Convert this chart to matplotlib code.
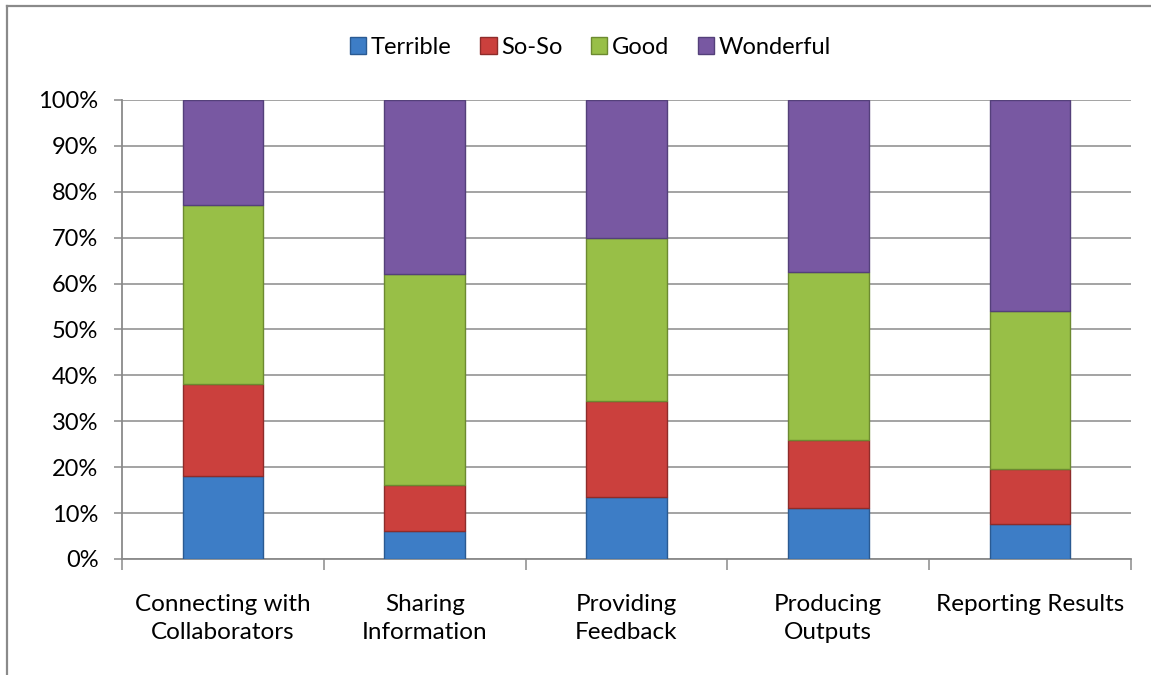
import numpy as np
import matplotlib
matplotlib.use("Agg")
import matplotlib.pyplot as plt
from matplotlib.lines import Line2D

plt.rcParams['font.family'] = ['Lato', 'DejaVu Sans']

# data (percent of responses)
categories = ['Connecting with\nCollaborators', 'Sharing\nInformation', 'Providing\nFeedback',
              'Producing\nOutputs', 'Reporting Results']
series = ['Terrible', 'So-So', 'Good', 'Wonderful']
terrible = [18, 6, 13.5, 11, 7.5]
so_so = [20, 10, 21, 15, 12]
good = [39, 46, 35.5, 36.5, 34.5]
wonderful = [23, 38, 30, 37.5, 46]

colors = ['#3d7dc6', '#cb403d', '#98bf47', '#7858a2']
edges = ['#2a5a92', '#8e2c2a', '#6c8a30', '#54407a']

fig = plt.figure(figsize=(11.51, 6.75), dpi=100)
ax = fig.add_axes([0.106, 0.172, 0.8766, 0.680])

x = np.arange(len(categories))
bottom = np.zeros(len(categories))
for name, vals, c, ec in zip(series, [terrible, so_so, good, wonderful], colors, edges):
    vals = np.array(vals, dtype=float)
    ax.bar(x, vals, 0.40, bottom=bottom, color=c, edgecolor=ec, linewidth=1.0,
           label=name, zorder=3)
    bottom += vals

ax.set_xlim(-0.5, len(categories) - 0.5)
ax.set_ylim(0, 100)
ax.set_yticks(np.arange(0, 101, 10))
ax.set_yticklabels([f'{v}%' for v in range(0, 101, 10)])
ax.set_xticks(x)
ax.set_xticklabels(categories, linespacing=1.45)
ax.set_xticks(np.arange(-0.5, len(categories), 1), minor=True)

grid_col = '#8a8a8a'
ax.yaxis.grid(True, color=grid_col, linewidth=1.1, zorder=0)
for s in ['top', 'right']:
    ax.spines[s].set_visible(False)
for s in ['left', 'bottom']:
    ax.spines[s].set_color(grid_col)
    ax.spines[s].set_linewidth(1.3)

ax.tick_params(axis='y', length=6, width=1.1, color=grid_col, labelsize=17, pad=11)
ax.tick_params(axis='x', which='major', length=0, labelsize=17.5, pad=25)
ax.tick_params(axis='x', which='minor', length=8, width=1.1, color=grid_col)

handles = [plt.Rectangle((0, 0), 1, 1, facecolor=c, edgecolor=ec) for c, ec in zip(colors, edges)]
fig.legend(handles, series, loc='center', bbox_to_anchor=(0.513, 0.93), ncol=4, frameon=False,
           fontsize=17, handlelength=0.7, handleheight=0.7, handletextpad=0.2, columnspacing=1.2)

# outer chart frame (only top and left edges visible)
fig.add_artist(Line2D([0.0065, 1.0], [0.991, 0.991], color='#8a8a8a', linewidth=1.6,
                      transform=fig.transFigure))
fig.add_artist(Line2D([0.0065, 0.0065], [0.0, 0.991], color='#8a8a8a', linewidth=1.6,
                      transform=fig.transFigure))

fig.savefig('out.png', dpi=100)
